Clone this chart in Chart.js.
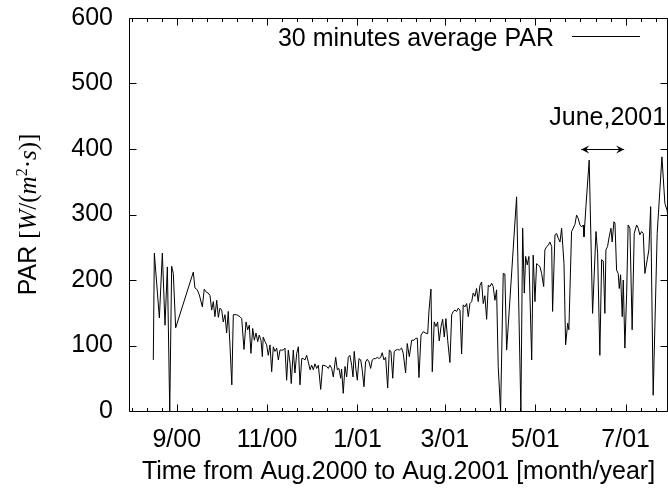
<!DOCTYPE html>
<html>
<head>
<meta charset="utf-8">
<script src="https://cdn.jsdelivr.net/npm/chart.js@4.4.0/dist/chart.umd.min.js"></script>
<style>
  html, body { margin: 0; padding: 0; background: #fff; }
  #wrap { width: 668px; height: 491px; }
</style>
</head>
<body>
<div id="wrap"><canvas id="parChart" width="668" height="491"></canvas></div>
<script>
// days counted from 1 Aug 2000
const days = [
  15.2, 15.9, 19.3, 21.3, 23.1, 24.7, 26.3, 27.6, 28.7, 30.3,
  42.2, 43.3, 44.9, 46.3, 48.3, 49.6, 51.2, 52.3, 53.5, 54.6,
  55.7, 56.8, 58.0, 59.1, 60.2, 61.4, 62.4, 63.6, 64.7, 65.8,
  67.0, 68.2, 69.2, 71.5, 73.7, 74.9, 76.4, 77.8, 78.9, 80.0,
  81.1, 82.3, 83.4, 84.5, 85.7, 86.7, 87.9, 88.8, 89.4, 90.6,
  91.7, 92.8, 94.0, 95.1, 96.2, 97.3, 98.5, 99.6, 100.7, 101.9,
  102.9, 104.1, 105.2, 106.3, 107.5, 108.3, 109.7, 110.8, 112.0, 113.1,
  114.2, 115.4, 116.4, 117.6, 118.7, 119.8, 121.0, 122.1, 123.2, 124.3,
  125.5, 126.6, 128.2, 129.5, 131.1, 132.2, 133.3, 134.4, 135.6, 136.7,
  138.3, 139.4, 140.5, 141.7, 142.3, 143.4, 144.6, 145.7, 146.8, 147.9,
  149.1, 150.0, 150.8, 152.0, 152.9, 154.0, 155.2, 156.2, 157.4, 158.5,
  159.6, 160.8, 161.9, 163.0, 164.1, 165.3, 166.4, 167.5, 168.7, 169.7,
  170.9, 172.0, 173.4, 174.5, 175.6, 176.8, 177.8, 179.0, 180.1, 181.2,
  182.8, 183.9, 185.5, 186.6, 188.0, 189.6, 191.1, 192.3, 193.4, 194.5,
  195.9, 197.4, 199.0, 200.4, 201.3, 202.6, 203.5, 204.8, 206.0, 207.1,
  208.2, 209.4, 210.5, 211.6, 212.7, 213.9, 215.4, 216.6, 217.7, 218.8,
  219.9, 221.0, 222.2, 223.3, 224.4, 225.5, 226.7, 227.8, 228.9, 230.1,
  231.1, 232.3, 233.4, 234.5, 235.7, 236.8, 237.9, 239.0, 240.2, 241.3,
  242.4, 243.6, 244.6, 245.8, 246.9, 248.0, 249.6, 251.4, 252.5, 253.7,
  260.4, 263.3, 264.5, 265.6, 266.5, 267.6, 268.7, 270.6, 271.6, 272.8,
  273.9, 275.0, 276.2, 277.3, 278.7, 279.5, 280.7, 281.8, 282.9, 284.1,
  284.7, 286.3, 287.4, 288.5, 289.7, 290.8, 292.4, 293.5, 294.9, 295.7,
  297.5, 298.6, 299.8, 300.9, 302.0, 303.2, 304.3, 305.4, 305.9, 307.2,
  309.4, 311.7, 314.0, 315.1, 316.6, 317.8, 318.9, 320.0, 320.7, 321.8,
  322.9, 324.1, 324.9, 326.1, 326.8, 327.9, 329.0, 329.7, 330.6, 331.7,
  332.4, 333.5, 334.7, 335.7, 336.9, 338.4, 339.8, 341.4, 342.5, 343.6,
  344.8, 345.9, 347.0, 348.6, 349.7, 350.9, 352.6, 355.3, 358.5, 360.5,
  361.9, 362.5
];
const parValues = [
  78, 241, 142, 241, 131, 220, 0, 221, 210, 127,
  212, 188, 185, 177, 159, 186, 181, 180, 176, 154,
  167, 144, 169, 143, 157, 154, 136, 147, 119, 152,
  98, 40, 147, 147, 144, 141, 94, 136, 124, 131,
  88, 126, 108, 119, 106, 116, 108, 83, 113, 106,
  101, 85, 101, 60, 98, 91, 96, 78, 93, 93,
  93, 96, 47, 93, 73, 42, 93, 58, 88, 98,
  40, 80, 80, 78, 85, 75, 63, 70, 63, 72,
  65, 70, 33, 70, 69, 68, 65, 70, 65, 52,
  82, 63, 65, 50, 64, 27, 68, 52, 82, 85,
  70, 52, 91, 63, 47, 80, 78, 63, 37, 75,
  79, 75, 65, 78, 80, 80, 82, 80, 82, 89,
  78, 82, 35, 93, 91, 50, 91, 93, 94, 93,
  96, 88, 58, 103, 83, 108, 108, 111, 111, 51,
  116, 121, 119, 118, 154, 186, 60, 136, 129, 136,
  107, 129, 140, 113, 141, 108, 74, 147, 152, 154,
  152, 157, 154, 87, 162, 159, 164, 144, 164, 167,
  180, 175, 187, 167, 192, 197, 164, 176, 140, 192,
  190, 195, 190, 169, 185, 68, 0, 210, 209, 93,
  327, 0, 279, 180, 236, 223, 236, 78, 238, 167,
  225, 223, 220, 210, 190, 246, 251, 253, 258, 251,
  152, 269, 271, 264, 258, 279, 225, 101, 134, 124,
  274, 279, 285, 299, 294, 284, 281, 284, 266, 312,
  383, 149, 274, 241, 85, 231, 229, 149, 246, 251,
  266, 279, 258, 289, 287, 215, 210, 187, 208, 144,
  200, 96, 180, 284, 279, 124, 271, 284, 279, 269,
  274, 271, 210, 231, 246, 312, 24, 271, 388, 317,
  307, 300
];

const monthTicks = [31, 92, 153, 212, 273, 334];
const monthLabels = ['9/00', '11/00', '1/01', '3/01', '5/01', '7/01'];
const yTicks = [0, 100, 200, 300, 400, 500, 600];
const seriesLabel = '30 minutes average PAR';
const juneSpan = [304, 333];
const juneLabel = 'June,2001';
const xTitle = 'Time from Aug.2000 to Aug.2001 [month/year]';

const SANS = "'Liberation Sans', Arial, Helvetica, sans-serif";
const SERIF = "'Liberation Serif', 'Times New Roman', serif";
const FS = 25;

function withMinorTicks(min, max) {
  const out = [];
  const sub = 6;
  const step0 = (monthTicks[1] - monthTicks[0]) / sub;
  for (let v = monthTicks[0] - step0; v >= min; v -= step0) out.unshift(v);
  for (let i = 0; i < monthTicks.length; i++) {
    out.push(monthTicks[i]);
    if (i < monthTicks.length - 1) {
      const st = (monthTicks[i + 1] - monthTicks[i]) / sub;
      for (let k = 1; k < sub; k++) out.push(monthTicks[i] + k * st);
    }
  }
  const stepN = (monthTicks[monthTicks.length - 1] - monthTicks[monthTicks.length - 2]) / sub;
  for (let v = monthTicks[monthTicks.length - 1] + stepN; v <= max; v += stepN) out.push(v);
  return out;
}

// frame and inward gnuplot-style tics
const frameTicks = {
  id: 'frameTicks',
  afterDraw(chart) {
    const { ctx, chartArea: a, scales: { x, y } } = chart;
    const L = Math.round(a.left) + 0.5, R = Math.round(a.right) - 0.5;
    const T = Math.round(a.top) + 0.5, B = Math.round(a.bottom) + 0.5;
    ctx.save();
    ctx.strokeStyle = '#000';
    ctx.lineWidth = 1;
    ctx.beginPath();
    ctx.rect(L, T, R - L, B - T);
    x.ticks.forEach(t => {
      const px = Math.round(x.getPixelForValue(t.value)) + 0.5;
      const len = monthTicks.includes(t.value) ? 7 : 3.5;
      ctx.moveTo(px, B); ctx.lineTo(px, B - len);
      ctx.moveTo(px, T); ctx.lineTo(px, T + len);
    });
    yTicks.forEach(v => {
      const py = Math.round(y.getPixelForValue(v)) + 0.5;
      ctx.moveTo(L, py); ctx.lineTo(L + 7, py);
      ctx.moveTo(R, py); ctx.lineTo(R - 7, py);
    });
    ctx.stroke();
    ctx.restore();
  }
};

// key at top right, text left of the line sample
const keyBox = {
  id: 'keyBox',
  afterDraw(chart) {
    const { ctx, chartArea: a } = chart;
    const ds = chart.data.datasets[0];
    ctx.save();
    ctx.font = FS + 'px ' + SANS;
    ctx.fillStyle = '#000';
    ctx.textAlign = 'right';
    ctx.textBaseline = 'alphabetic';
    ctx.fillText(ds.label, a.right - 114, a.top + 28);
    ctx.strokeStyle = ds.borderColor;
    ctx.lineWidth = 1;
    ctx.beginPath();
    ctx.moveTo(a.right - 96, a.top + 18.5);
    ctx.lineTo(a.right - 28, a.top + 18.5);
    ctx.stroke();
    ctx.restore();
  }
};

// "June,2001" with a double arrow across June
const juneMark = {
  id: 'juneMark',
  afterDraw(chart) {
    const { ctx, scales: { x, y } } = chart;
    const x0 = x.getPixelForValue(juneSpan[0]);
    const x1 = x.getPixelForValue(juneSpan[1]);
    const ya = Math.round(y.getPixelForValue(400)) + 0.5;
    ctx.save();
    ctx.strokeStyle = '#000';
    ctx.fillStyle = '#000';
    ctx.lineWidth = 1;
    ctx.beginPath();
    ctx.moveTo(x0, ya); ctx.lineTo(x1, ya);
    ctx.stroke();
    [[x0, 1], [x1, -1]].forEach(([px, d]) => {
      ctx.beginPath();
      ctx.moveTo(px, ya);
      ctx.lineTo(px + d * 8, ya - 4);
      ctx.lineTo(px + d * 5, ya);
      ctx.lineTo(px + d * 8, ya + 4);
      ctx.closePath();
      ctx.fill();
    });
    ctx.font = FS + 'px ' + SANS;
    ctx.textAlign = 'center';
    ctx.textBaseline = 'alphabetic';
    ctx.fillText(juneLabel, (x0 + x1) / 2 + 5, ya - 25);
    ctx.restore();
  }
};

// rotated y title with math-style unit
const yTitle = {
  id: 'yTitle',
  afterDraw(chart) {
    const { ctx, chartArea: a } = chart;
    const parts = [
      { t: 'PAR ', f: FS + 'px ' + SANS, dy: 0 },
      { t: '[', f: FS + 'px ' + SERIF, dy: 0 },
      { t: 'W', f: 'italic ' + FS + 'px ' + SERIF, dy: 0 },
      { t: '/(', f: FS + 'px ' + SERIF, dy: 0 },
      { t: 'm', f: 'italic ' + FS + 'px ' + SERIF, dy: 0 },
      { t: '2', f: '16px ' + SERIF, dy: -9 },
      { t: '\u00b7', f: FS + 'px ' + SERIF, dy: 0 },
      { t: 's', f: 'italic ' + FS + 'px ' + SERIF, dy: 0 },
      { t: ')]', f: FS + 'px ' + SERIF, dy: 0 }
    ];
    ctx.save();
    let total = 0;
    parts.forEach(p => { ctx.font = p.f; p.w = ctx.measureText(p.t).width; total += p.w; });
    ctx.translate(36, (a.top + a.bottom) / 2);
    ctx.rotate(-Math.PI / 2);
    ctx.fillStyle = '#000';
    ctx.textBaseline = 'alphabetic';
    ctx.textAlign = 'left';
    let cx = -total / 2;
    parts.forEach(p => {
      ctx.font = p.f;
      ctx.fillText(p.t, cx, p.dy);
      cx += p.w;
    });
    ctx.restore();
  }
};

const points = days.map((d, i) => ({ x: d, y: parValues[i] }));

new Chart(document.getElementById('parChart'), {
  type: 'line',
  data: {
    datasets: [{
      label: seriesLabel,
      data: points,
      borderColor: '#000',
      borderWidth: 1,
      pointRadius: 0,
      tension: 0,
      fill: false
    }]
  },
  options: {
    responsive: false,
    animation: false,
    devicePixelRatio: 1,
    layout: { padding: { top: 18, right: 0, left: 0, bottom: 0 } },
    plugins: { legend: { display: false }, tooltip: { enabled: false } },
    scales: {
      x: {
        type: 'linear',
        min: -1.2,
        max: 362.6,
        bounds: 'data',
        afterBuildTicks: s => { s.ticks = withMinorTicks(s.min, s.max).map(v => ({ value: v })); },
        afterFit: s => {
          s.height = 80;
          s.paddingLeft = 0;
          s.paddingRight = 0;
        },
        grid: { display: false, drawTicks: false },
        border: { display: false },
        ticks: {
          autoSkip: false,
          maxRotation: 0,
          minRotation: 0,
          padding: 14,
          color: '#000',
          font: { family: SANS, size: FS },
          callback: v => {
            const i = monthTicks.indexOf(v);
            return i >= 0 ? monthLabels[i] : '';
          }
        },
        title: {
          display: true,
          text: xTitle,
          color: '#000',
          font: { family: SANS, size: FS },
          padding: { top: 4, bottom: 4 }
        }
      },
      y: {
        min: 0,
        max: 600,
        afterBuildTicks: s => { s.ticks = yTicks.map(v => ({ value: v })); },
        afterFit: s => {
          s.width = 129;
          s.paddingTop = 0;
          s.paddingBottom = 0;
        },
        grid: { display: false, drawTicks: false },
        border: { display: false },
        ticks: {
          padding: 16,
          color: '#000',
          font: { family: SANS, size: FS }
        }
      }
    }
  },
  plugins: [frameTicks, keyBox, juneMark, yTitle]
});
</script>
</body>
</html>
